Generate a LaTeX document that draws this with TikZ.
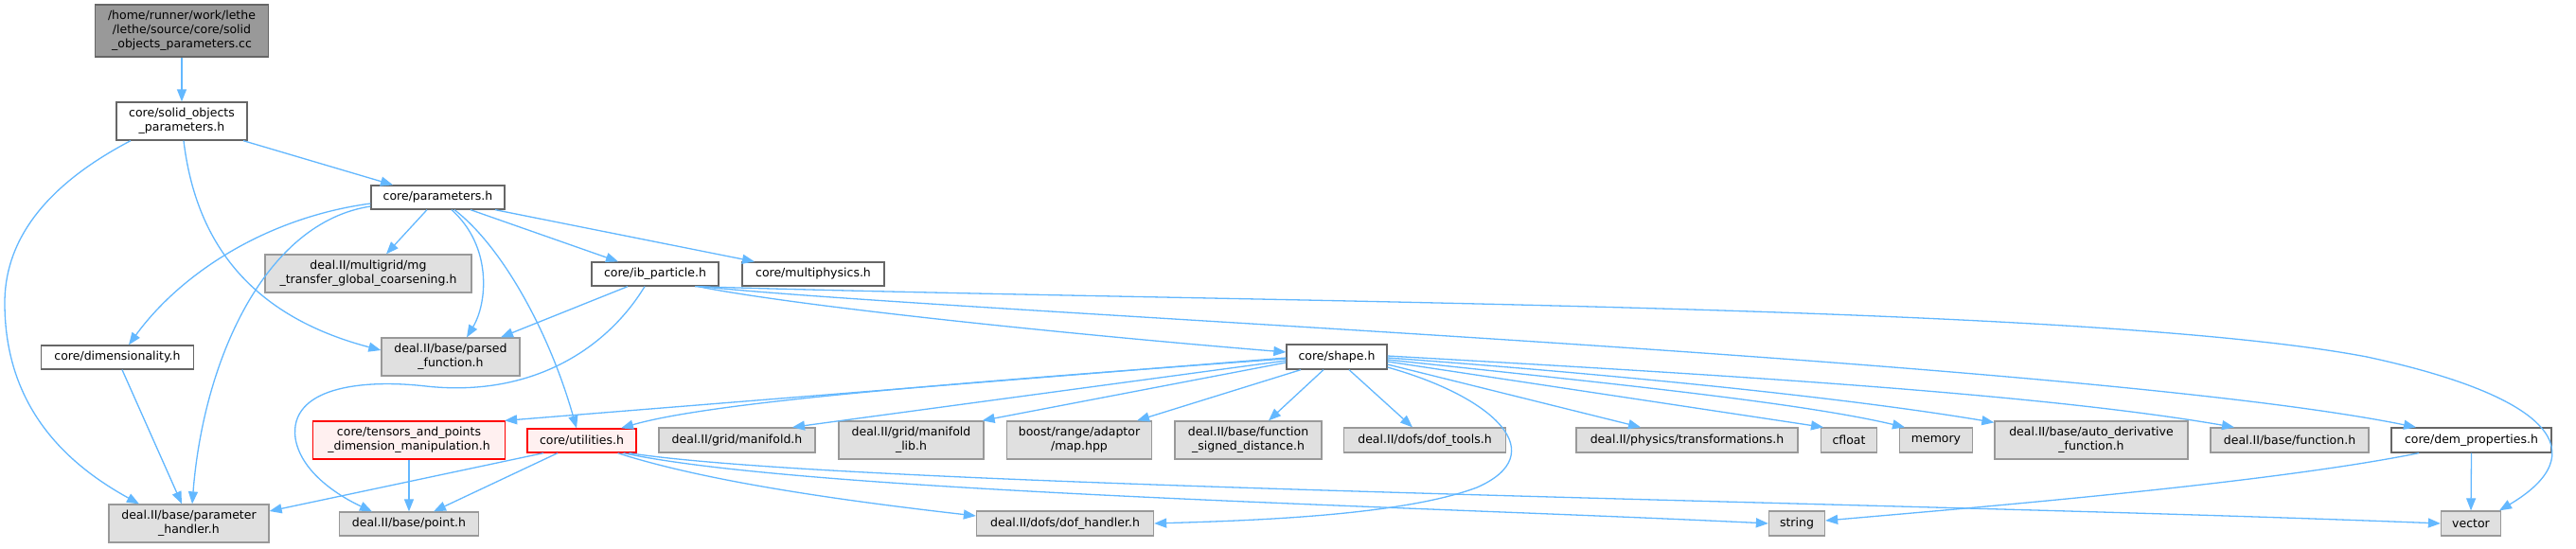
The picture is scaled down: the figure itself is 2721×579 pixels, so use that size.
\documentclass[tikz,border=0pt]{standalone}
\usepackage{fontspec}
\setmainfont{DejaVu Sans}
\usetikzlibrary{arrows.meta}
\definecolor{edgec}{HTML}{63B8FF}
\definecolor{boxdark}{HTML}{666666}
\definecolor{boxgray}{HTML}{999999}
\definecolor{boxfill}{HTML}{E0E0E0}
\definecolor{rootfill}{HTML}{999999}
\definecolor{redfill}{HTML}{FFF0F0}
\definecolor{redline}{HTML}{FF0000}
\begin{document}
\begin{tikzpicture}[x=1pt,y=-1pt,
  basebox/.style={rectangle, inner sep=0pt, align=center, font=\fontsize{12.5}{15}\selectfont, line width=1.3pt},
  wbox/.style={basebox, draw=boxdark, fill=white},
  gbox/.style={basebox, draw=boxgray, fill=boxfill},
  rbox/.style={basebox, draw=redline, fill=redfill},
  rootbox/.style={basebox, draw=boxdark, fill=rootfill},
  dep/.style={draw=edgec, line width=1.3pt, -{Triangle[length=13pt,width=10pt]}}]
\fill[white] (0,0) rectangle (2721,579);
\useasboundingbox (0,0) rectangle (2721,579);

% nodes
\node[rootbox, minimum width=183pt, minimum height=55pt] (root) at (192,32.5) {/home/runner/work/lethe\\/lethe/source/core/solid\\\_objects\_parameters.cc};
\node[wbox, minimum width=138pt, minimum height=40pt] (solid) at (192,128) {core/solid\_objects\\\_parameters.h};
\node[wbox, minimum width=141pt, minimum height=25pt] (params) at (462.5,208.5) {core/parameters.h};
\node[gbox, minimum width=218pt, minimum height=40pt] (mg) at (389,289) {deal.II/multigrid/mg\\\_transfer\_global\_coarsening.h};
\node[wbox, minimum width=134pt, minimum height=25pt] (ib) at (692,289.5) {core/ib\_particle.h};
\node[wbox, minimum width=150pt, minimum height=25pt] (multi) at (859,289.5) {core/multiphysics.h};
\node[wbox, minimum width=161pt, minimum height=25pt] (dim) at (124,377.5) {core/dimensionality.h};
\node[gbox, minimum width=146pt, minimum height=40pt] (parsed) at (476,377) {deal.II/base/parsed\\\_function.h};
\node[wbox, minimum width=106pt, minimum height=26pt] (shape) at (1412,377) {core/shape.h};
\node[rbox, minimum width=203pt, minimum height=40pt] (tensors) at (432,465) {core/tensors\_and\_points\\\_dimension\_manipulation.h};
\node[rbox, minimum width=115pt, minimum height=25pt] (util) at (614.5,465.5) {core/utilities.h};
\node[gbox, minimum width=165pt, minimum height=26pt] (manifold) at (778.5,465) {deal.II/grid/manifold.h};
\node[gbox, minimum width=153pt, minimum height=40pt] (manilib) at (962.5,465) {deal.II/grid/manifold\\\_lib.h};
\node[gbox, minimum width=153pt, minimum height=40pt] (map) at (1140,465) {boost/range/adaptor\\/map.hpp};
\node[gbox, minimum width=155pt, minimum height=40pt] (signed) at (1318.5,465) {deal.II/base/function\\\_signed\_distance.h};
\node[gbox, minimum width=171pt, minimum height=26pt] (doftools) at (1505,465) {deal.II/dofs/dof\_tools.h};
\node[gbox, minimum width=234pt, minimum height=26pt] (transf) at (1782,465) {deal.II/physics/transformations.h};
\node[gbox, minimum width=59pt, minimum height=26pt] (cfloat) at (1953,465) {cfloat};
\node[gbox, minimum width=77.5pt, minimum height=26pt] (memory) at (2045,465) {memory};
\node[gbox, minimum width=204pt, minimum height=40pt] (autoder) at (2209,465) {deal.II/base/auto\_derivative\\\_function.h};
\node[gbox, minimum width=167pt, minimum height=26pt] (func) at (2418.5,465) {deal.II/base/function.h};
\node[wbox, minimum width=169pt, minimum height=26pt] (dem) at (2610.5,465) {core/dem\_properties.h};
\node[gbox, minimum width=169pt, minimum height=40pt] (ph) at (199.5,553) {deal.II/base/parameter\\\_handler.h};
\node[gbox, minimum width=146.5pt, minimum height=25pt] (point) at (432,553.5) {deal.II/base/point.h};
\node[gbox, minimum width=187pt, minimum height=26pt] (dofh) at (1125,553) {deal.II/dofs/dof\_handler.h};
\node[gbox, minimum width=59pt, minimum height=26pt] (string) at (1898,553) {string};
\node[gbox, minimum width=63pt, minimum height=26pt] (vector) at (2610,553) {vector};

% edges
\draw[dep] (root.south) -- (solid.north);
\draw[dep] ([xshift=65pt]solid.south) -- ([xshift=-47.5pt]params.north);
\draw[dep] ([xshift=2pt]solid.south) .. controls (205,240) and (250,330) .. ([yshift=7pt]parsed.west);
\draw[dep] ([xshift=-54pt]solid.south) .. controls (40,200) and (5,260) .. (5,320) .. controls (5,430) and (70,490) .. ([xshift=-52.5pt]ph.north);

\draw[dep] ([xshift=-11.5pt]params.south) -- ([xshift=19pt]mg.north);
\draw[dep] ([yshift=-6.5pt]params.west) .. controls (280,230) and (190,290) .. ([xshift=12pt]dim.north);
\draw[dep] ([yshift=-9.5pt]params.west) .. controls (280,235) and (215,380) .. ([xshift=3.5pt]ph.north);
\draw[dep] ([xshift=14.5pt]params.south) .. controls (520,260) and (515,320) .. ([xshift=17pt]parsed.north);
\draw[dep] ([xshift=17.5pt]params.south) .. controls (530,260) and (580,350) .. ([xshift=-5.5pt]util.north);
\draw[dep] ([xshift=34.5pt]params.south) -- ([xshift=-39pt]ib.north);
\draw[dep] ([xshift=60.5pt]params.south) -- ([xshift=-62pt]multi.north);

\draw[dep] ([xshift=5pt]dim.south) -- ([xshift=-7.5pt]ph.north);

\draw[dep] ([xshift=-29pt]ib.south) -- ([xshift=53pt]parsed.north);
\draw[dep] ([xshift=-11pt]ib.south) .. controls (640,370) and (560,420) .. (450,408) .. controls (380,400) and (305,410) .. (312,463) .. controls (318,500) and (360,525) .. ([xshift=-39pt]point.north);
\draw[dep] ([xshift=45pt]ib.south) .. controls (850,325) and (1150,355) .. ([yshift=5pt]shape.west);
\draw[dep] ([xshift=48pt]ib.south) .. controls (1000,330) and (2200,380) .. ([xshift=-58.5pt]dem.north);
\draw[dep] ([xshift=42pt]ib.south) .. controls (1300,320) and (2200,320) .. (2500,377) .. controls (2700,420) and (2740,480) .. ([xshift=30pt]vector.north);

\draw[dep] ([yshift=-1pt]shape.west) -- ([xshift=-1pt]tensors.north east);
\draw[dep] ([yshift=-2pt]shape.west) .. controls (1000,405) and (750,425) .. ([xshift=41.5pt]util.north);
\draw[dep] ([yshift=-4pt]shape.west) -- ([xshift=58.5pt]manifold.north);
\draw[dep] ([yshift=-6pt]shape.west) -- ([xshift=-2pt]manilib.north east);
\draw[dep] ([xshift=-38pt]shape.south) -- ([xshift=61pt]map.north);
\draw[dep] ([xshift=-14pt]shape.south) -- ([xshift=21.5pt]signed.north);
\draw[dep] ([xshift=13pt]shape.south) -- ([xshift=-13pt]doftools.north);
\draw[dep] ([yshift=-11pt]shape.east) .. controls (1580,420) and (1640,480) .. (1560,515) .. controls (1480,545) and (1320,550) .. (dofh.east);
\draw[dep] ([yshift=-8pt]shape.east) -- ([xshift=-49pt]transf.north);
\draw[dep] ([yshift=-5pt]shape.east) -- ([xshift=-27pt]cfloat.north);
\draw[dep] ([yshift=-3pt]shape.east) .. controls (1700,405) and (1900,425) .. ([xshift=-33pt]memory.north);
\draw[dep] ([yshift=-1pt]shape.east) .. controls (1700,395) and (1950,420) .. ([yshift=-2pt]autoder.north west);
\draw[dep] ([yshift=1pt]shape.east) .. controls (1800,395) and (2150,415) .. ([xshift=-58.5pt]func.north);

\draw[dep] (tensors.south) -- (point.north);

\draw[dep] ([xshift=-40.5pt]util.south) -- ([yshift=13pt]ph.east);
\draw[dep] ([xshift=-25.5pt]util.south) -- ([xshift=26pt]point.north);
\draw[dep] ([xshift=38pt]util.south) .. controls (750,510) and (900,530) .. ([yshift=8pt]dofh.west);
\draw[dep] ([xshift=44pt]util.south) .. controls (850,520) and (1500,535) .. (string.west);
\draw[dep] ([xshift=50pt]util.south) .. controls (900,515) and (2000,530) .. (vector.west);

\draw[dep] ([xshift=-55.5pt]dem.south) .. controls (2400,510) and (2100,535) .. ([yshift=3pt]string.east);
\draw[dep] (dem.south) -- (vector.north);
\end{tikzpicture}
\end{document}
